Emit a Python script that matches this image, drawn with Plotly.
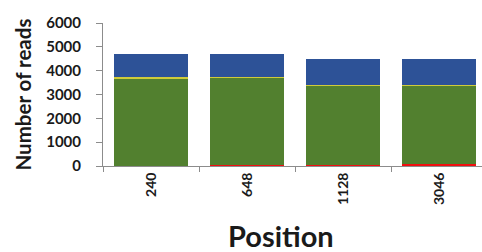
import plotly.graph_objects as go

positions = ["240", "648", "1128", "3046"]
red_vals = [10, 25, 25, 70]
green_vals = [3680, 3680, 3360, 3290]
yellow_vals = [30, 30, 30, 30]
blue_vals = [1000, 955, 1065, 1090]
y_ticks = [0, 1000, 2000, 3000, 4000, 5000, 6000]

fig = go.Figure()
for vals, col in [(red_vals, "#F01010"), (green_vals, "#52802F"),
                  (yellow_vals, "#CFCB3A"), (blue_vals, "#2D5297")]:
    fig.add_trace(go.Bar(x=positions, y=vals, marker=dict(color=col, line=dict(width=0)),
                         showlegend=False))

W, H = 482, 252
L, R, T, B = 103, 0, 23, 86
pw = W - L - R
ph = H - T - B

fig.update_layout(
    barmode="stack", bargap=0.23,
    width=W, height=H,
    margin=dict(l=L, r=R, t=T, b=B),
    plot_bgcolor="white", paper_bgcolor="white",
    font=dict(family="Lato", color="#1a1a1a"),
)
fig.update_xaxes(
    type="category", range=[-0.5, -0.5 + pw / 96.0],
    showline=True, linecolor="#8c8c8c", linewidth=1,
    ticks="outside", tickson="boundaries", ticklen=5, tickcolor="#8c8c8c",
    tickangle=-90, tickfont=dict(size=14, weight="bold", color="#1a1a1a"),
    showgrid=False, zeroline=False,
)
fig.update_yaxes(
    range=[0, 6000], tickvals=y_ticks,
    showline=True, linecolor="#8c8c8c", linewidth=1,
    ticks="outside", ticklen=6, tickcolor="#8c8c8c",
    tickfont=dict(size=15, weight="bold", color="#1a1a1a"),
    ticklabelstandoff=12,
    showgrid=False, zeroline=False,
)
fig.add_annotation(text="Position", xref="paper", yref="paper",
                   x=(281 - L) / pw, y=(165.5 - 235) / ph,
                   xanchor="center", yanchor="middle", showarrow=False,
                   font=dict(size=29, weight="bold", color="#1a1a1a"))
fig.add_annotation(text="Number of reads", xref="paper", yref="paper",
                   x=(22 - L) / pw, y=(165.5 - 94) / ph, textangle=-90,
                   xanchor="center", yanchor="middle", showarrow=False,
                   font=dict(size=20.5, weight="bold", color="#1a1a1a"))

fig.write_html("out.html", config={"displayModeBar": False},
               post_script="document.body.style.margin='0';")
